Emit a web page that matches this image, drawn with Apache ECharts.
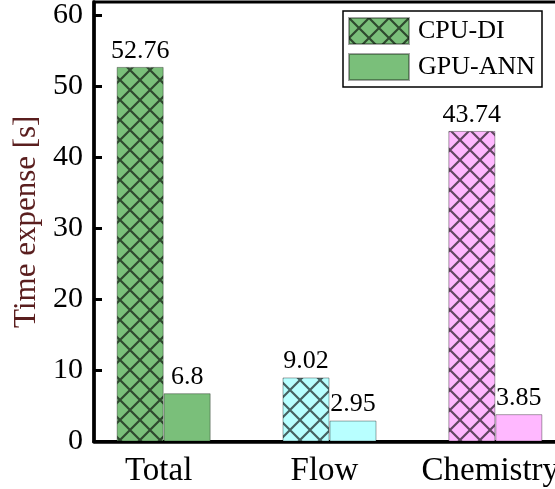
<!DOCTYPE html>
<html>
<head>
<meta charset="utf-8">
<script src="https://cdn.jsdelivr.net/npm/echarts@6/dist/echarts.min.js"></script>
<style>
  html, body { margin: 0; padding: 0; background: #fff; }
  #chart { width: 555px; height: 489px; }
</style>
</head>
<body>
<div id="chart"></div>
<script>
// Run-time breakdown per stage
const categories = ['Total', 'Flow', 'Chemistry'];
const seriesNames = ['CPU-DI', 'GPU-ANN'];
const cpuDI = [52.76, 9.02, 43.74];
const gpuANN = [6.8, 2.95, 3.85];
const yTicks = [0, 10, 20, 30, 40, 50, 60];
const xPositions = [1, 2, 3];

const FONT = 'Liberation Serif, Times New Roman, serif';
const fills = ['#7abf7a', '#b8ffff', '#ffb8ff'];

// Cross-hatch fill: base colour with two diagonal line families
function hatch(base) {
  const s = 20;
  const c = document.createElement('canvas');
  c.width = s; c.height = s;
  const g = c.getContext('2d');
  g.fillStyle = base;
  g.fillRect(0, 0, s, s);
  g.strokeStyle = 'rgba(0,0,0,0.62)';
  g.lineWidth = 2.2;
  g.beginPath();
  for (const k of [-s, 0, s]) {
    g.moveTo(k, 0); g.lineTo(k + s, s);
    g.moveTo(k + s, 0); g.lineTo(k, s);
  }
  g.stroke();
  return { image: c, repeat: 'repeat' };
}

const border = { borderColor: 'rgba(0,0,0,0.35)', borderWidth: 1 };

const cpuData = cpuDI.map((v, i) => ({
  value: [xPositions[i], v],
  itemStyle: Object.assign({ color: hatch(fills[i]) }, border)
}));
const gpuData = gpuANN.map((v, i) => ({
  value: [xPositions[i], v],
  itemStyle: Object.assign({ color: fills[i] }, border)
}));

const barLabel = {
  show: true,
  position: 'top',
  distance: 3,
  fontFamily: FONT,
  fontSize: 26,
  color: '#000',
  formatter: p => String(p.value[1])
};

const chart = echarts.init(document.getElementById('chart'), null, { renderer: 'canvas' });
chart.setOption({
  animation: false,
  backgroundColor: '#fff',
  grid: {
    left: 94, right: -10, top: 2, bottom: 47.5,
    show: true, borderColor: '#000', borderWidth: 3,
    outerBoundsMode: 'none'
  },
  legend: {
    orient: 'vertical',
    left: 343, top: 11,
    itemWidth: 60, itemHeight: 26, itemGap: 8,
    padding: [6, 7, 6, 5],
    borderColor: '#000', borderWidth: 1.5,
    icon: 'rect',
    textStyle: { fontFamily: FONT, fontSize: 26, color: '#000', padding: [0, 0, 0, 4] },
    data: seriesNames
  },
  xAxis: {
    type: 'value',
    min: 0.58, max: 3.42,
    axisLine: { lineStyle: { color: '#000', width: 3.5 } },
    axisTick: { show: false },
    splitLine: { show: false },
    axisLabel: {
      customValues: xPositions,
      margin: 13,
      formatter: v => '{c|' + categories[Math.round(v) - 1] + '}',
      rich: { c: { fontFamily: FONT, fontSize: 33, color: '#000', padding: [0, 10, 0, 0] } }
    }
  },
  yAxis: {
    type: 'value',
    min: 0, max: 61.9,
    name: 'Time expense [s]',
    nameLocation: 'middle',
    nameGap: 50,
    nameTextStyle: { fontFamily: FONT, fontSize: 31, color: '#5a1e1e' },
    axisLine: { show: true, lineStyle: { color: '#000', width: 3.5 } },
    axisTick: { show: true, inside: true, length: 8, customValues: yTicks, lineStyle: { color: '#000', width: 3 } },
    splitLine: { show: false },
    axisLabel: { customValues: yTicks, margin: 11, fontFamily: FONT, fontSize: 30, color: '#000' }
  },
  series: [
    {
      name: seriesNames[0], type: 'bar', barWidth: 47, barGap: '0%',
      itemStyle: Object.assign({ color: hatch(fills[0]) }, border),
      label: barLabel, data: cpuData
    },
    {
      name: seriesNames[1], type: 'bar', barWidth: 47, barGap: '0%',
      itemStyle: Object.assign({ color: fills[0] }, border),
      label: barLabel, data: gpuData
    }
  ]
});
</script>
</body>
</html>
